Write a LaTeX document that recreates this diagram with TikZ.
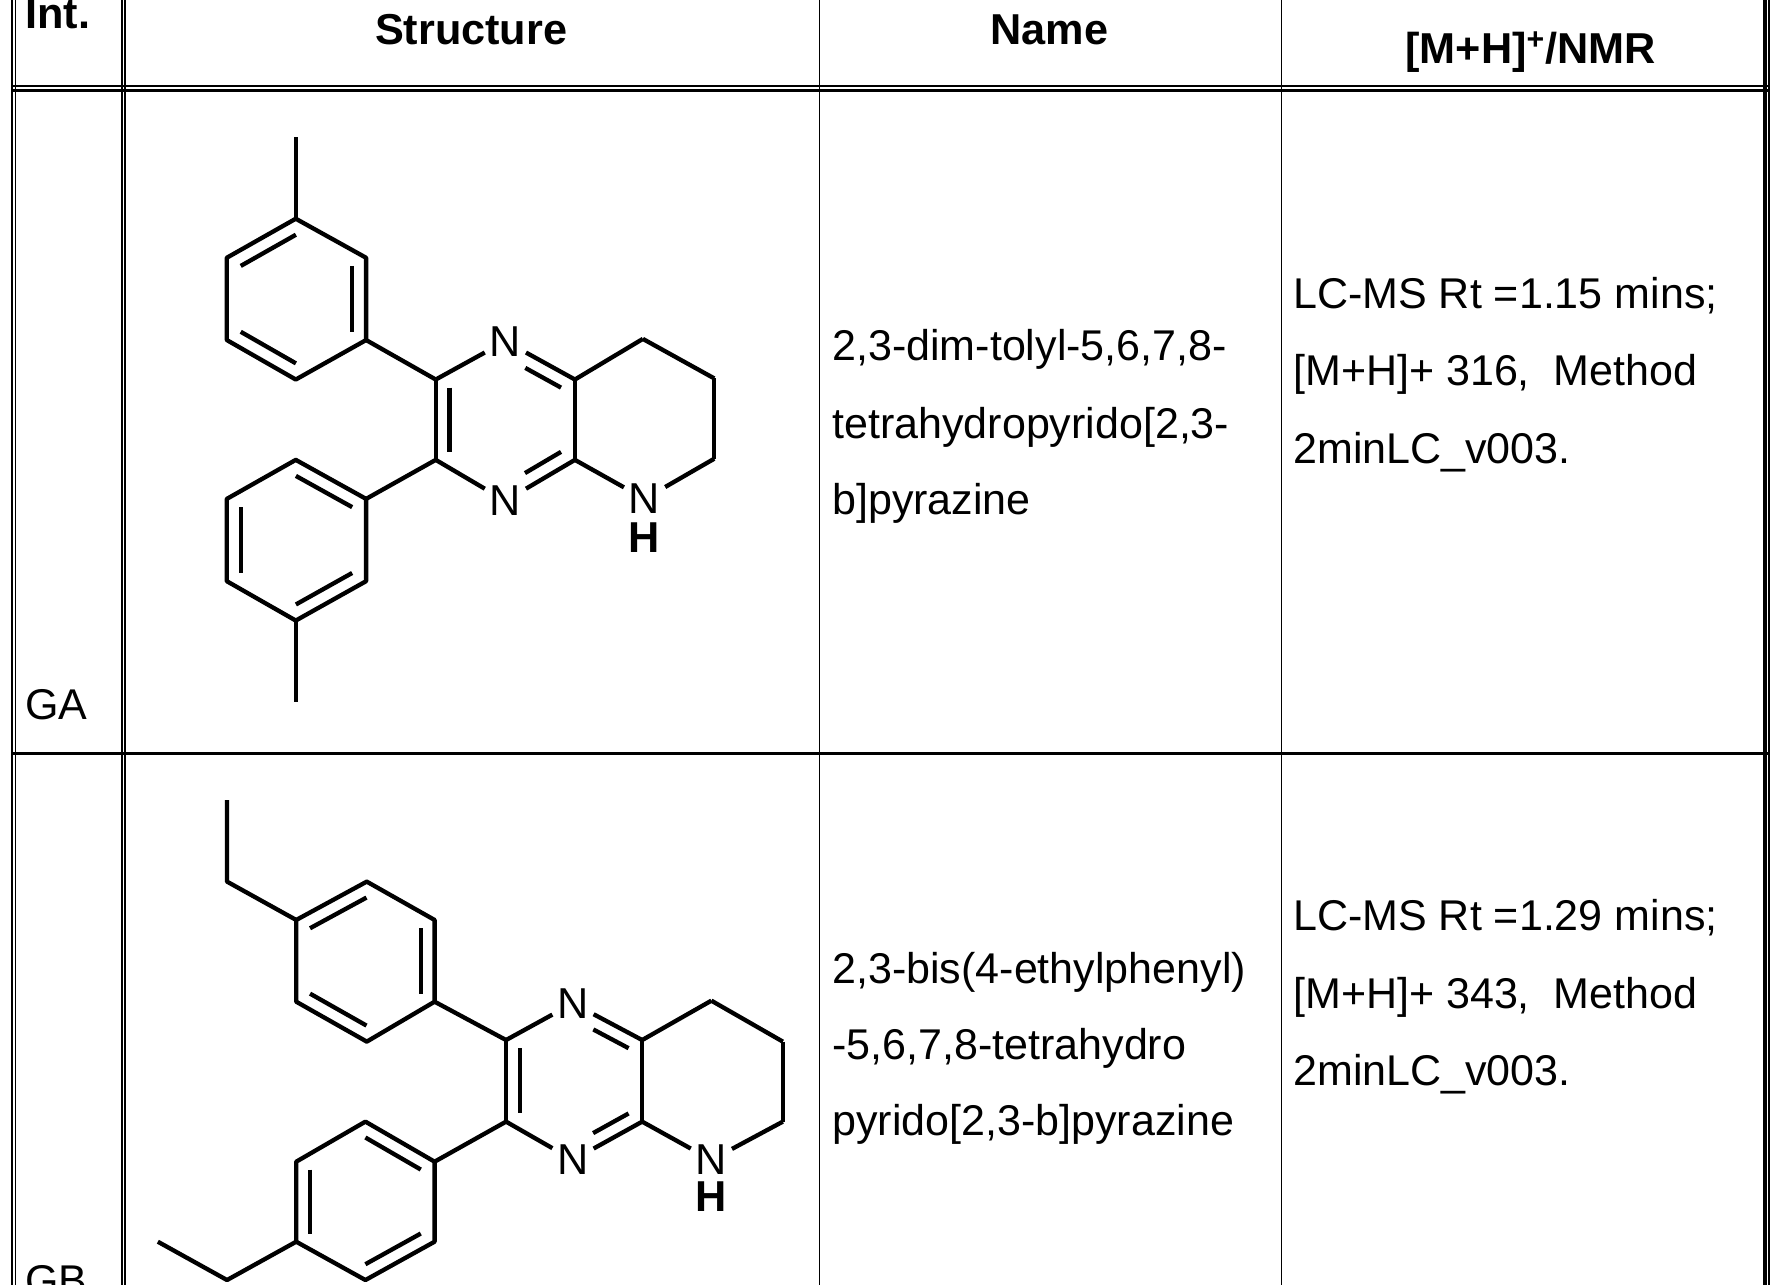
\documentclass[tikz,border=0pt]{standalone}
\usepackage{fontspec}
\setmainfont{Liberation Sans}
\usetikzlibrary{calc}
\tikzset{
  bond/.style={line width=1.9pt},
  tline/.style={line width=#1},
  atom/.style={inner sep=2pt, font=\fontsize{19}{19}\selectfont},
  hatom/.style={inner sep=0pt, font=\fontsize{19}{19}\selectfont\bfseries},
  body/.style={anchor=base west, inner sep=0pt, font=\fontsize{18.9}{18.9}\selectfont},
  head/.style={anchor=base, inner sep=0pt, font=\fontsize{19}{19}\selectfont\bfseries},
}
\newcommand{\dbl}[5]{\draw[bond, shorten <=#4, shorten >=#5] ($(#1)!0.2!(#3)$) -- ($(#2)!0.2!(#3)$);}
\begin{document}
\begin{tikzpicture}[x=0.5pt,y=-0.5pt]
\useasboundingbox (0,0) rectangle (1565,1129);
\fill[white] (0,0) rectangle (1565,1129);
% table
\draw[tline=1pt] (10.7,0) -- (10.7,1129);
\draw[tline=0.6pt] (13.5,0) -- (13.5,1129);
\draw[tline=0.9pt] (106.9,0) -- (106.9,1129);
\draw[tline=0.85pt] (109.9,0) -- (109.9,1129);
\draw[tline=0.75pt] (720,0) -- (720,1129);
\draw[tline=0.75pt] (1126,0) -- (1126,1129);
\draw[tline=1.5pt] (1551,0) -- (1551,1129);
\draw[tline=0.75pt] (1554.6,0) -- (1554.6,1129);
\draw[tline=1pt] (10.7,75.7) -- (1555,75.7);
\draw[tline=1pt] (10.7,79.5) -- (1555,79.5);
\draw[tline=1.25pt] (10.7,662.2) -- (1555,662.2);
% headers
\node[body, font=\fontsize{19}{19}\selectfont\bfseries] (hint) at (22,25) {Int.};
\node[head] (hstr) at (414,39) {Structure};
\node[head] (hname) at (922,39) {Name};
\node[head] (hnmr) at (1345,56) {[M+H]\textsuperscript{+}/NMR};
% GA text
\node[body] (ga) at (22,632) {GA};
\node[body] (gan1) at (731,317) {2,3-dim-tolyl-5,6,7,8-};
\node[body] (gan2) at (731,385) {tetrahydropyrido[2,3-};
\node[body] (gan3) at (731,452) {b]pyrazine};
\node[body] (gam1) at (1136,271) {LC-MS Rt =1.15 mins;};
\node[body] (gam2) at (1136,339) {[M+H]+ 316,\ \ Method};
\node[body] (gam3) at (1136,407) {2minLC\_v003.};
% GB text
\node[body] (gb) at (22,1138) {GB};
\node[body] (gbn1) at (731,864) {2,3-bis(4-ethylphenyl)};
\node[body] (gbn2) at (731,931) {-5,6,7,8-tetrahydro};
\node[body] (gbn3) at (731,998) {pyrido[2,3-b]pyrazine};
\node[body] (gbm1) at (1136,818) {LC-MS Rt =1.29 mins;};
\node[body] (gbm2) at (1136,886) {[M+H]+ 343,\ \ Method};
\node[body] (gbm3) at (1136,954) {2minLC\_v003.};

% ===== GA molecule =====
\coordinate (a1) at (259.9,192.2); \coordinate (a2) at (321.7,226.5);
\coordinate (a3) at (321.7,298.8); \coordinate (a4) at (259.9,333.5);
\coordinate (a5) at (199.3,298.8); \coordinate (a6) at (199.3,226.5);
\coordinate (ame) at (259.9,120.6); \coordinate (ac1) at (260.5,262.5);
\coordinate (c2) at (382.9,333.5); \node[atom] (n1) at (444.1,299.8) {N};
\coordinate (c8a) at (505.2,333.5); \coordinate (c4a) at (505.2,404.1);
\node[atom] (n4) at (444.1,440.1) {N}; \coordinate (c3) at (382.9,404.1);
\coordinate (pc) at (444,369);
\coordinate (p1) at (564.9,297.8); \coordinate (p2) at (627.6,332.5);
\coordinate (p3) at (627.6,403.1); \node[atom] (nh) at (566.4,438.4) {N};
\node[hatom] (hh) at (566.4,472) {H};
\coordinate (b1) at (321.7,438.4); \coordinate (b2) at (259.9,404.1);
\coordinate (b3) at (199.3,438.4); \coordinate (b4) at (199.3,510.7);
\coordinate (b5) at (259.9,545.3); \coordinate (b6) at (321.7,510.7);
\coordinate (bme) at (259.9,616.6); \coordinate (bc1) at (260.5,474.6);
\draw[bond, line join=round] (a1)--(a2)--(a3)--(a4)--(a5)--(a6)--cycle;
\draw[bond] (a1)--(ame);
\draw[bond] (a3)--(c2);
\dbl{a1}{a6}{ac1}{0pt}{0pt}
\dbl{a2}{a3}{ac1}{0pt}{0pt}
\dbl{a4}{a5}{ac1}{0pt}{0pt}
\draw[bond, line join=round] (b1)--(b2)--(b3)--(b4)--(b5)--(b6)--cycle;
\draw[bond] (b5)--(bme);
\draw[bond] (c3)--(b1);
\dbl{b2}{b1}{bc1}{0pt}{0pt}
\dbl{b3}{b4}{bc1}{0pt}{0pt}
\dbl{b5}{b6}{bc1}{0pt}{0pt}
\draw[bond] (c2)--(n1); \draw[bond] (n1)--(c8a); \draw[bond] (c8a)--(c4a);
\draw[bond] (c4a)--(n4); \draw[bond] (n4)--(c3); \draw[bond] (c3)--(c2);
\dbl{c2}{c3}{pc}{0pt}{0pt}
\dbl{n1}{c8a}{pc}{10pt}{0pt}
\dbl{n4}{c4a}{pc}{10pt}{0pt}
\draw[bond] (c8a)--(p1); \draw[bond] (p1)--(p2); \draw[bond] (p2)--(p3);
\draw[bond] (p3)--(nh); \draw[bond] (nh)--(c4a);

% ===== GB molecule =====
\coordinate (d1) at (260.3,808.4); \coordinate (d2) at (322.3,774.7);
\coordinate (d3) at (381.9,808.4); \coordinate (d4) at (381.9,880.2);
\coordinate (d5) at (322.3,915.3); \coordinate (d6) at (260.3,880.2);
\coordinate (de1) at (199.5,774.7); \coordinate (de2) at (199.5,703);
\coordinate (dc) at (321,844.8);
\coordinate (e2) at (444.7,913.9); \node[atom] (m1) at (503.5,881.6) {N};
\coordinate (e8a) at (564.3,913.9); \coordinate (e4a) at (564.3,985.6);
\node[atom] (m4) at (503.5,1019.3) {N}; \coordinate (e3) at (444.7,985.6);
\coordinate (ec) at (504.5,949.7);
\coordinate (q1) at (625.1,879.3); \coordinate (q2) at (687.9,915.3);
\coordinate (q3) at (687.9,985.6); \node[atom] (mh) at (625.1,1019.3) {N};
\node[hatom] (mhh) at (625.1,1051.5) {H};
\coordinate (f1) at (381.9,1020.8); \coordinate (f2) at (321.1,985.6);
\coordinate (f3) at (260.3,1020.8); \coordinate (f4) at (260.3,1091.1);
\coordinate (f5) at (321.1,1124.8); \coordinate (f6) at (381.9,1091.1);
\coordinate (fe1) at (199.5,1124.8); \coordinate (fe2) at (138.7,1091.1);
\coordinate (fc) at (321,1055.3);
\draw[bond, line join=round] (d1)--(d2)--(d3)--(d4)--(d5)--(d6)--cycle;
\draw[bond, line join=round] (d1)--(de1)--(de2);
\draw[bond] (d4)--(e2);
\dbl{d1}{d2}{dc}{0pt}{0pt}
\dbl{d3}{d4}{dc}{0pt}{0pt}
\dbl{d5}{d6}{dc}{0pt}{0pt}
\draw[bond, line join=round] (f1)--(f2)--(f3)--(f4)--(f5)--(f6)--cycle;
\draw[bond, line join=round] (f4)--(fe1)--(fe2);
\draw[bond] (e3)--(f1);
\dbl{f2}{f1}{fc}{0pt}{0pt}
\dbl{f3}{f4}{fc}{0pt}{0pt}
\dbl{f5}{f6}{fc}{0pt}{0pt}
\draw[bond] (e2)--(m1); \draw[bond] (m1)--(e8a); \draw[bond] (e8a)--(e4a);
\draw[bond] (e4a)--(m4); \draw[bond] (m4)--(e3); \draw[bond] (e3)--(e2);
\dbl{e2}{e3}{ec}{0pt}{0pt}
\dbl{m1}{e8a}{ec}{10pt}{0pt}
\dbl{m4}{e4a}{ec}{10pt}{0pt}
\draw[bond] (e8a)--(q1); \draw[bond] (q1)--(q2); \draw[bond] (q2)--(q3);
\draw[bond] (q3)--(mh); \draw[bond] (mh)--(e4a);
\end{tikzpicture}
\end{document}
